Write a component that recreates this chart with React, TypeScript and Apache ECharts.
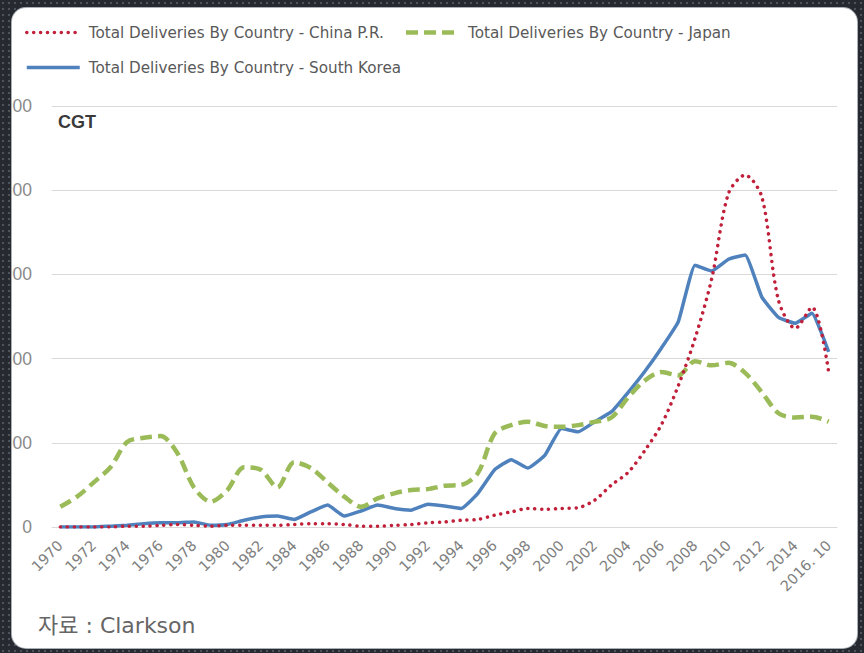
import React, { useEffect, useRef } from "react";
import * as echarts from "echarts";

const years: string[] = [
  "1970", "1971", "1972", "1973", "1974", "1975", "1976", "1977", "1978", "1979",
  "1980", "1981", "1982", "1983", "1984", "1985", "1986", "1987", "1988", "1989",
  "1990", "1991", "1992", "1993", "1994", "1995", "1996", "1997", "1998", "1999",
  "2000", "2001", "2002", "2003", "2004", "2005", "2006", "2007", "2008", "2009",
  "2010", "2011", "2012", "2013", "2014", "2015", "2016. 10",
];

// thousand CGT
const china: number[] = [
  0, 0, 0, 0, 50, 50, 100, 150, 100, 50,
  100, 100, 100, 100, 150, 200, 200, 150, 50, 50,
  100, 150, 250, 300, 400, 450, 700, 900, 1100, 1050,
  1100, 1150, 1600, 2500, 3250, 4550, 6100, 8400, 11200, 14750,
  19800, 20900, 19600, 13450, 11800, 13050, 9200,
];
const japan: number[] = [
  1200, 1800, 2650, 3550, 5050, 5300, 5400, 4400, 2350, 1500,
  2200, 3550, 3400, 2350, 3850, 3500, 2650, 1800, 1200, 1700,
  2000, 2200, 2250, 2450, 2500, 3200, 5550, 6050, 6250, 6000,
  5950, 6050, 6250, 6500, 7700, 8700, 9200, 9000, 9850, 9600,
  9750, 9150, 8000, 6750, 6500, 6550, 6250,
];
const korea: number[] = [
  0, 0, 0, 50, 100, 200, 250, 250, 300, 100,
  150, 400, 600, 650, 450, 900, 1300, 650, 950, 1300,
  1100, 1000, 1350, 1250, 1100, 2000, 3400, 4000, 3500, 4250,
  5850, 5650, 6250, 6850, 8000, 9250, 10650, 12200, 15550, 15200,
  15900, 16150, 13650, 12450, 12100, 12700, 10400,
];

const seriesNames: string[] = [
  "Total Deliveries By Country - China P.R.",
  "Total Deliveries By Country - Japan",
  "Total Deliveries By Country - South Korea",
];

const unitLabel = "CGT";
const sourceLabel = "자료 : Clarkson";

export default function App() {
  const ref = useRef<HTMLDivElement>(null);

  useEffect(() => {
    if (!ref.current) return;
    const chart = echarts.init(ref.current, null, { renderer: "svg" });
    const font = "'DejaVu Sans', 'Liberation Sans', sans-serif";
    chart.setOption({
      animation: false,
      backgroundColor: "transparent",
      legend: {
        left: 20,
        top: 20,
        width: 745,
        itemWidth: 53,
        itemHeight: 14,
        itemGap: 20,
        itemStyle: { opacity: 0 },
        lineStyle: { width: "inherit" },
        textStyle: {
          fontFamily: font,
          fontSize: 15.2,
          color: "#595959",
          padding: [0, 0, 0, 4],
        },
        data: seriesNames,
      },
      grid: { left: 52, right: 27, top: 106, bottom: 126, outerBoundsMode: "none", containLabel: false },
      xAxis: {
        type: "category",
        data: years,
        boundaryGap: true,
        axisTick: { show: false },
        axisLine: { lineStyle: { color: "#d9d9d9", width: 1 } },
        axisLabel: {
          interval: 1,
          rotate: 45,
          margin: 16,
          fontFamily: font,
          fontSize: 14.5,
          color: "#808080",
        },
      },
      yAxis: {
        type: "value",
        min: 0,
        max: 25000,
        interval: 5000,
        axisLine: { show: false },
        axisTick: { show: false },
        splitLine: { lineStyle: { color: "#d9d9d9", width: 1 } },
        axisLabel: {
          margin: 20,
          fontFamily: "'Liberation Sans', Arial, sans-serif",
          fontSize: 17.5,
          color: "#8a8a8a",
          formatter: (v: number) => v.toLocaleString("en-US"),
        },
      },
      series: [
        {
          name: seriesNames[0],
          type: "line",
          data: china,
          smooth: 0.3,
          symbol: "none",
          z: 4,
          lineStyle: { color: "#c0203a", width: 3.5, type: [0.1, 6.8], cap: "round" },
          itemStyle: { color: "#c0203a" },
        },
        {
          name: seriesNames[1],
          type: "line",
          data: japan,
          smooth: 0.3,
          symbol: "none",
          z: 3,
          lineStyle: { color: "#9bbb59", width: 4.5, type: [12, 6], cap: "butt" },
          itemStyle: { color: "#9bbb59" },
        },
        {
          name: seriesNames[2],
          type: "line",
          data: korea,
          smooth: 0.12,
          symbol: "none",
          z: 2,
          lineStyle: { color: "#4f81bd", width: 3.5, type: "solid" },
          itemStyle: { color: "#4f81bd" },
        },
      ],
      graphic: [
        {
          type: "text",
          left: 58,
          top: 113,
          style: {
            text: unitLabel,
            font: "bold 18px 'Liberation Sans', Arial, sans-serif",
            fill: "#3a3a3a",
          },
        },
        {
          type: "text",
          left: 38,
          top: 614,
          style: {
            text: sourceLabel,
            font: "22px 'DejaVu Sans', 'Noto Sans CJK KR', sans-serif",
            fill: "#666666",
          },
        },
      ],
    });
    return () => chart.dispose();
  }, []);

  return (
    <div
      style={{
        position: "fixed",
        left: 0,
        top: 0,
        width: 864,
        height: 653,
        background:
          "radial-gradient(circle, #4d535b 1px, transparent 1.6px) 0 0 / 6px 6px, #262a30",
        overflow: "hidden",
      }}
    >
      <div
        style={{
          position: "absolute",
          left: 12,
          top: 8,
          width: 845,
          height: 640,
          borderRadius: 14,
          background: "#ffffff",
          overflow: "hidden",
          boxShadow: "0 0 0 1px #aab0b6",
        }}
      >
        <div
          ref={ref}
          style={{ position: "absolute", left: -12, top: -8, width: 864, height: 653 }}
        />
      </div>
    </div>
  );
}
